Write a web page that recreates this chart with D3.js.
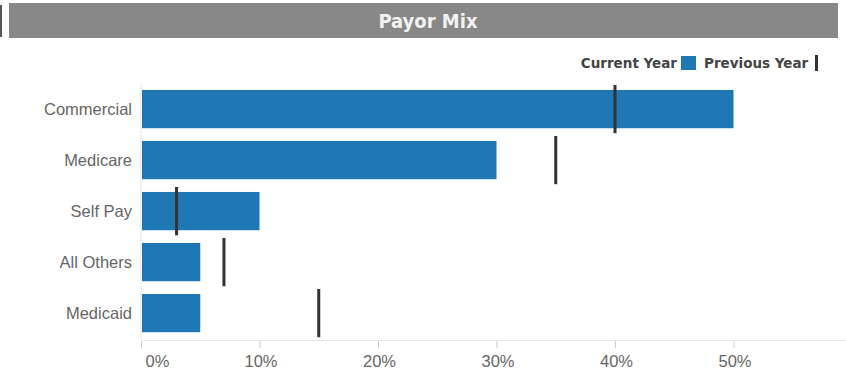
<!DOCTYPE html>
<html>
<head>
<meta charset="utf-8">
<script src="https://cdn.jsdelivr.net/npm/d3@7"></script>
<style>
  body { margin: 0; background: #fff; }
  svg { display: block; font-family: Arial, "Liberation Sans", sans-serif; }
</style>
</head>
<body>
<svg width="846" height="391"></svg>
<script>
// Data
const payors = ["Commercial", "Medicare", "Self Pay", "All Others", "Medicaid"];
const currentYear = [0.50, 0.30, 0.10, 0.05, 0.05];
const previousYear = [0.40, 0.35, 0.03, 0.07, 0.15];
const xTicks = [0, 0.1, 0.2, 0.3, 0.4, 0.5];

const svg = d3.select("svg");

const rows = payors.map((name, i) => ({ name, cur: currentYear[i], prev: previousYear[i] }));

// title bar
svg.append("rect")
    .attr("x", 0).attr("y", 5).attr("width", 2).attr("height", 32)
    .attr("fill", "#555");
svg.append("rect")
    .attr("x", 9).attr("y", 3).attr("width", 829).attr("height", 35)
    .attr("fill", "#888");
svg.append("text")
    .attr("x", 428).attr("y", 21)
    .attr("text-anchor", "middle")
    .attr("dominant-baseline", "central")
    .attr("fill", "#f2f2f2")
    .style("font-family", "'DejaVu Sans Condensed', 'DejaVu Sans', sans-serif")
    .style("font-size", "20px")
    .style("font-weight", "bold")
    .text("Payor Mix");

// scales
const x = d3.scaleLinear().domain([0, 0.6]).range([141, 852]);
const y = d3.scaleBand().domain(payors).range([83.6, 338.6])
    .paddingInner(0.25).paddingOuter(0.125);

// y axis line
svg.append("line")
    .attr("x1", 141).attr("x2", 141)
    .attr("y1", 84).attr("y2", 340)
    .attr("stroke", "#e6e6e6");

// x axis
const xAxis = svg.append("g")
    .attr("transform", "translate(0,340)")
    .call(d3.axisBottom(x).tickValues(xTicks).tickFormat(d3.format(".0%")).tickSize(0).tickPadding(0));
xAxis.select(".domain").attr("stroke", "#e6e6e6");
xAxis.selectAll(".tick line")
    .attr("y1", 1).attr("y2", 8)
    .attr("stroke", "#ccc");
xAxis.selectAll(".tick text")
    .attr("fill", "#666")
    .attr("text-anchor", (d, i) => (i === 0 ? "start" : "middle"))
    .attr("dx", (d, i) => (i === 0 ? 4 : 1))
    .attr("y", 21)
    .attr("dy", 0)
    .attr("dominant-baseline", "central")
    .style("font-size", "16.5px");

// category labels
svg.append("g")
    .selectAll("text")
    .data(rows)
    .enter()
    .append("text")
    .attr("x", 132)
    .attr("y", (d) => y(d.name) + y.bandwidth() / 2)
    .attr("text-anchor", "end")
    .attr("dominant-baseline", "central")
    .attr("fill", "#666")
    .style("font-size", "16.5px")
    .text((d) => d.name);

// current year bars
svg.append("g")
    .selectAll("rect")
    .data(rows)
    .enter()
    .append("rect")
    .attr("x", x(0) + 1)
    .attr("y", (d) => y(d.name))
    .attr("width", (d) => x(d.cur) - x(0) - 1)
    .attr("height", y.bandwidth())
    .attr("fill", "#1f77b4");

// previous year markers
svg.append("g")
    .selectAll("rect")
    .data(rows)
    .enter()
    .append("rect")
    .attr("x", (d) => x(d.prev) - 1.5)
    .attr("y", (d) => y(d.name) - 5)
    .attr("width", 3)
    .attr("height", y.bandwidth() + 10)
    .attr("fill", "#333");

// legend
const legend = svg.append("g")
    .style("font-family", "'DejaVu Sans', Verdana, sans-serif")
    .style("font-size", "13.5px")
    .style("font-weight", "bold")
    .attr("fill", "#444");
legend.append("text")
    .attr("x", 677).attr("y", 63)
    .attr("text-anchor", "end")
    .attr("dominant-baseline", "central")
    .text("Current Year");
legend.append("rect")
    .attr("x", 681).attr("y", 56).attr("width", 15).attr("height", 14)
    .attr("fill", "#1f77b4");
legend.append("text")
    .attr("x", 704).attr("y", 63)
    .attr("dominant-baseline", "central")
    .text("Previous Year");
legend.append("rect")
    .attr("x", 815).attr("y", 55).attr("width", 3).attr("height", 16)
    .attr("fill", "#333");
</script>
</body>
</html>
